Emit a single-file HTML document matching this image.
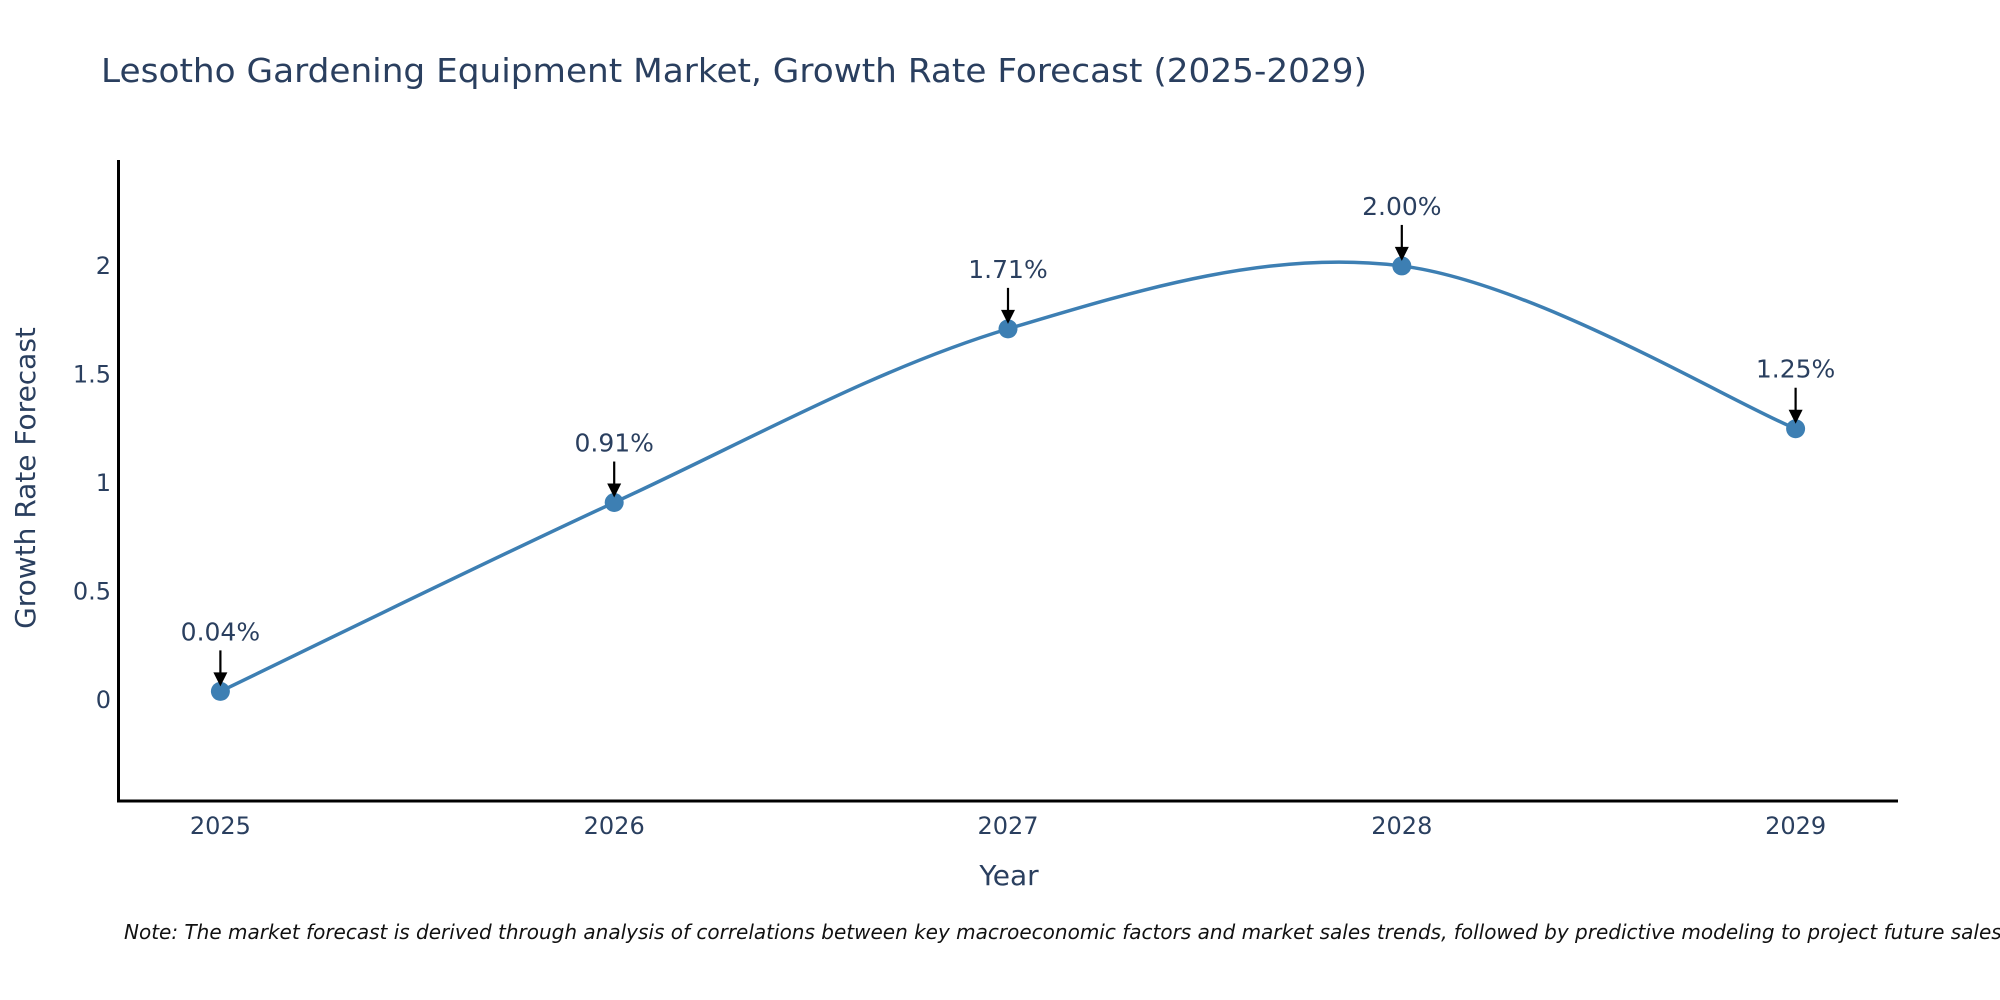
<!DOCTYPE html>
<html><head><meta charset="utf-8"><style>
html,body{margin:0;padding:0;background:#fff;width:2000px;height:1000px;overflow:hidden}
svg text{font-family:"DejaVu Sans","Liberation Sans",sans-serif;fill:#2a3f5f}
</style></head><body>
<svg id="chart" width="2000" height="1000" xmlns="http://www.w3.org/2000/svg">
<text x="101" y="82" font-size="33" textLength="1266" lengthAdjust="spacingAndGlyphs">Lesotho Gardening Equipment Market, Growth Rate Forecast (2025-2029)</text>
<g id="plot"></g>
<line x1="118.5" y1="160" x2="118.5" y2="802" stroke="#000" stroke-width="3"/>
<line x1="117" y1="801" x2="1898" y2="801" stroke="#000" stroke-width="3"/>
<text x="1009" y="885" font-size="28" text-anchor="middle">Year</text>
<text transform="translate(35,478) rotate(-90)" font-size="28" text-anchor="middle">Growth Rate Forecast</text>
<text x="124" y="939" font-size="20" font-style="italic" style="fill:#111">Note: The market forecast is derived through analysis of correlations between key macroeconomic factors and market sales trends, followed by predictive modeling to project future sales.</text>
</svg>
<script>
const years = [2025, 2026, 2027, 2028, 2029];
const growth = [0.04, 0.91, 1.71, 2.00, 1.25];
const labels = ["0.04%", "0.91%", "1.71%", "2.00%", "1.25%"];
const yTicks = [0, 0.5, 1, 1.5, 2];
const yTickLabels = ["0", "0.5", "1", "1.5", "2"];

const NS = "http://www.w3.org/2000/svg";
const g = document.getElementById("plot");
const xMin = 2024.74, xMax = 2029.26, yMin = -0.465, yMax = 2.488;
const L = 118, R = 1898, T = 160, B = 801;
const xs = v => L + (v - xMin) / (xMax - xMin) * (R - L);
const ys = v => B - (v - yMin) / (yMax - yMin) * (B - T);
function mk(tag, attrs){const e=document.createElementNS(NS,tag);for(const k in attrs)e.setAttribute(k,attrs[k]);g.appendChild(e);return e;}

yTicks.forEach((t,i)=>{
  const e = mk("text",{x:111,y:ys(t)+8,"font-size":24,"text-anchor":"end"});
  e.textContent = yTickLabels[i];
  
  
});
years.forEach(yr=>{
  const e = mk("text",{x:xs(yr),y:834,"font-size":24,"text-anchor":"middle"});
  e.textContent = String(yr);
  
  
});

// Catmull-Rom spline
const pts = years.map((yr,i)=>[xs(yr), ys(growth[i])]);
const n = pts.length;
let d = `M${pts[0][0]},${pts[0][1]}`;
for(let i=0;i<n-1;i++){
  const p0 = pts[Math.max(0,i-1)], p1 = pts[i], p2 = pts[i+1], p3 = pts[Math.min(n-1,i+2)];
  const c1 = [p1[0]+(p2[0]-p0[0])/6, p1[1]+(p2[1]-p0[1])/6];
  const c2 = [p2[0]-(p3[0]-p1[0])/6, p2[1]-(p3[1]-p1[1])/6];
  d += `C${c1[0]},${c1[1]} ${c2[0]},${c2[1]} ${p2[0]},${p2[1]}`;
}
const line = mk("path",{d:d,fill:"none",stroke:"#3d7fb3","stroke-width":3.5});



pts.forEach((p,i)=>{
  const c = mk("circle",{cx:p[0],cy:p[1],r:9.5,fill:"#3d7fb3"});
  
  
  const a = mk("line",{x1:p[0],y1:p[1]-41,x2:p[0],y2:p[1]-16,stroke:"#000","stroke-width":2.2});
  
  
  const h = mk("polygon",{points:`${p[0]-7},${p[1]-19} ${p[0]+7},${p[1]-19} ${p[0]},${p[1]-5}`,fill:"#000"});
  
  
  const t = mk("text",{x:p[0],y:p[1]-51,"font-size":25,"text-anchor":"middle"});
  t.textContent = labels[i];
  
  
});
</script>
</body></html>
